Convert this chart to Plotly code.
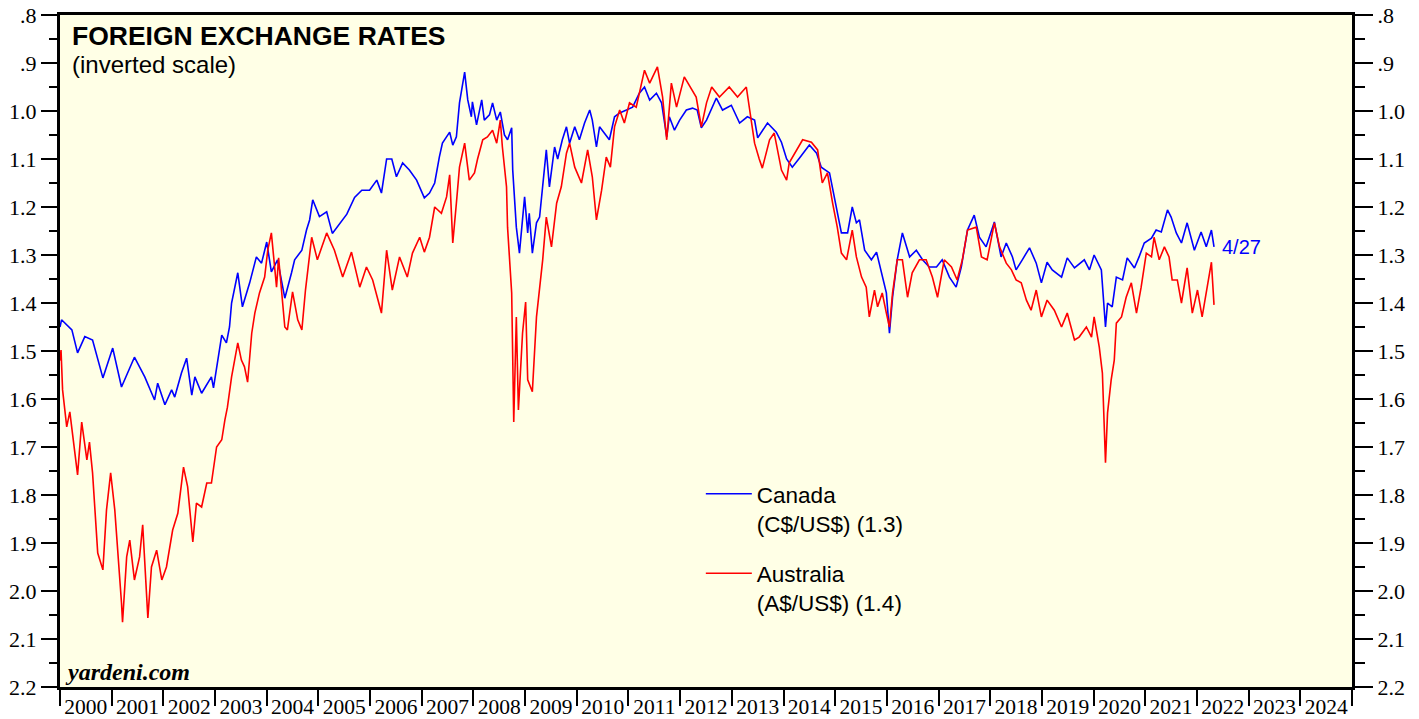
import plotly.graph_objects as go

# ---- data (decimal years, exchange rates per US$) ----
can_t = [2000.00, 2000.03, 2000.23, 2000.34, 2000.48, 2000.63, 2000.83, 2001.02, 2001.19, 2001.44,
         2001.64, 2001.83, 2001.89, 2002.03, 2002.16, 2002.22, 2002.35, 2002.45, 2002.55, 2002.61,
         2002.74, 2002.93, 2002.97, 2003.05, 2003.13, 2003.22, 2003.28, 2003.32, 2003.44, 2003.53,
         2003.67, 2003.80, 2003.90, 2004.00, 2004.09, 2004.21, 2004.35, 2004.48, 2004.54, 2004.68,
         2004.77, 2004.83, 2004.89, 2005.02, 2005.16, 2005.27, 2005.41, 2005.55, 2005.70, 2005.84,
         2005.99, 2006.13, 2006.22, 2006.32, 2006.42, 2006.51, 2006.63, 2006.76, 2006.90, 2007.05,
         2007.15, 2007.25, 2007.34, 2007.40, 2007.54, 2007.60, 2007.67, 2007.73, 2007.83, 2007.89,
         2007.96, 2007.98, 2008.06, 2008.16, 2008.21, 2008.31, 2008.37, 2008.45, 2008.52, 2008.60,
         2008.66, 2008.74, 2008.76, 2008.83, 2008.89, 2008.99, 2009.05, 2009.08, 2009.14, 2009.22,
         2009.28, 2009.34, 2009.41, 2009.47, 2009.57, 2009.63, 2009.72, 2009.80, 2009.86, 2009.96,
         2010.05, 2010.15, 2010.25, 2010.30, 2010.38, 2010.44, 2010.54, 2010.63, 2010.73, 2010.83,
         2010.96, 2011.08, 2011.21, 2011.31, 2011.41, 2011.54, 2011.64, 2011.74, 2011.79, 2011.89,
         2011.99, 2012.12, 2012.24, 2012.33, 2012.41, 2012.51, 2012.70, 2012.82, 2012.99, 2013.15,
         2013.30, 2013.44, 2013.50, 2013.69, 2013.86, 2013.96, 2014.06, 2014.17, 2014.31, 2014.40,
         2014.50, 2014.64, 2014.73, 2014.89, 2015.02, 2015.12, 2015.24, 2015.33, 2015.41, 2015.47,
         2015.57, 2015.70, 2015.80, 2015.89, 2015.99, 2016.05, 2016.11, 2016.20, 2016.30, 2016.44,
         2016.57, 2016.69, 2016.82, 2016.96, 2017.07, 2017.21, 2017.34, 2017.44, 2017.56, 2017.69,
         2017.79, 2017.92, 2018.08, 2018.21, 2018.31, 2018.43, 2018.50, 2018.62, 2018.76, 2018.89,
         2018.99, 2019.10, 2019.20, 2019.38, 2019.49, 2019.63, 2019.82, 2019.92, 2020.01, 2020.15,
         2020.23, 2020.27, 2020.36, 2020.44, 2020.56, 2020.65, 2020.79, 2020.88, 2020.98, 2021.12,
         2021.21, 2021.31, 2021.43, 2021.50, 2021.60, 2021.70, 2021.81, 2021.95, 2022.08, 2022.18,
         2022.28, 2022.33]
can_v = [1.450, 1.435, 1.456, 1.504, 1.470, 1.477, 1.556, 1.494, 1.575, 1.513,
         1.554, 1.602, 1.567, 1.612, 1.581, 1.596, 1.546, 1.515, 1.592, 1.554,
         1.588, 1.554, 1.577, 1.523, 1.467, 1.483, 1.450, 1.400, 1.337, 1.408,
         1.358, 1.304, 1.317, 1.273, 1.335, 1.310, 1.390, 1.337, 1.310, 1.290,
         1.248, 1.227, 1.185, 1.220, 1.210, 1.255, 1.235, 1.215, 1.180, 1.165,
         1.165, 1.144, 1.171, 1.100, 1.100, 1.137, 1.108, 1.123, 1.144, 1.181,
         1.171, 1.150, 1.096, 1.067, 1.044, 1.071, 1.054, 0.983, 0.919, 0.977,
         1.012, 0.981, 1.029, 0.977, 1.019, 1.008, 0.983, 1.019, 1.002, 1.050,
         1.060, 1.035, 1.123, 1.242, 1.296, 1.179, 1.254, 1.213, 1.296, 1.233,
         1.221, 1.150, 1.081, 1.158, 1.075, 1.100, 1.060, 1.033, 1.067, 1.033,
         1.060, 1.025, 0.998, 1.019, 1.075, 1.033, 1.046, 1.060, 1.012, 1.004,
         0.998, 0.992, 0.963, 0.950, 0.977, 0.963, 0.983, 1.054, 1.012, 1.040,
         1.019, 0.998, 0.994, 0.998, 1.035, 1.019, 0.973, 0.998, 0.988, 1.025,
         1.012, 1.019, 1.056, 1.025, 1.044, 1.065, 1.100, 1.117, 1.098, 1.085,
         1.071, 1.088, 1.117, 1.129, 1.200, 1.254, 1.254, 1.200, 1.233, 1.227,
         1.290, 1.310, 1.294, 1.337, 1.379, 1.463, 1.388, 1.310, 1.254, 1.304,
         1.290, 1.310, 1.325, 1.325, 1.310, 1.346, 1.367, 1.325, 1.248, 1.217,
         1.263, 1.283, 1.231, 1.304, 1.275, 1.304, 1.331, 1.310, 1.285, 1.317,
         1.358, 1.315, 1.331, 1.346, 1.306, 1.327, 1.310, 1.331, 1.300, 1.331,
         1.450, 1.400, 1.408, 1.346, 1.352, 1.306, 1.327, 1.304, 1.275, 1.265,
         1.248, 1.252, 1.206, 1.221, 1.254, 1.275, 1.233, 1.290, 1.252, 1.283,
         1.248, 1.283]

aus_t = [2000.00, 2000.02, 2000.05, 2000.13, 2000.19, 2000.25, 2000.34, 2000.42, 2000.52, 2000.57,
         2000.63, 2000.73, 2000.83, 2000.90, 2000.98, 2001.06, 2001.12, 2001.19, 2001.21, 2001.29,
         2001.35, 2001.44, 2001.54, 2001.60, 2001.70, 2001.77, 2001.87, 2001.97, 2002.06, 2002.18,
         2002.28, 2002.39, 2002.47, 2002.57, 2002.64, 2002.74, 2002.84, 2002.93, 2003.03, 2003.13,
         2003.19, 2003.24, 2003.32, 2003.38, 2003.44, 2003.51, 2003.57, 2003.63, 2003.71, 2003.77,
         2003.86, 2003.96, 2004.02, 2004.09, 2004.19, 2004.23, 2004.35, 2004.40, 2004.50, 2004.60,
         2004.68, 2004.75, 2004.87, 2004.98, 2005.16, 2005.31, 2005.47, 2005.64, 2005.80, 2005.93,
         2006.05, 2006.22, 2006.32, 2006.43, 2006.57, 2006.72, 2006.82, 2006.96, 2007.05, 2007.15,
         2007.25, 2007.38, 2007.48, 2007.54, 2007.60, 2007.67, 2007.73, 2007.83, 2007.92, 2008.02,
         2008.08, 2008.18, 2008.27, 2008.37, 2008.45, 2008.52, 2008.56, 2008.64, 2008.66, 2008.74,
         2008.78, 2008.83, 2008.87, 2008.95, 2009.01, 2009.05, 2009.14, 2009.22, 2009.28, 2009.34,
         2009.41, 2009.51, 2009.61, 2009.70, 2009.80, 2009.86, 2009.96, 2010.09, 2010.21, 2010.30,
         2010.38, 2010.48, 2010.57, 2010.65, 2010.73, 2010.83, 2010.92, 2011.02, 2011.15, 2011.21,
         2011.31, 2011.41, 2011.56, 2011.66, 2011.74, 2011.83, 2011.93, 2012.08, 2012.22, 2012.31,
         2012.41, 2012.51, 2012.61, 2012.76, 2012.95, 2013.11, 2013.28, 2013.34, 2013.44, 2013.53,
         2013.59, 2013.73, 2013.82, 2013.96, 2014.06, 2014.11, 2014.25, 2014.37, 2014.54, 2014.66,
         2014.75, 2014.85, 2014.95, 2015.04, 2015.12, 2015.22, 2015.33, 2015.41, 2015.51, 2015.60,
         2015.66, 2015.76, 2015.82, 2015.91, 2015.99, 2016.05, 2016.11, 2016.20, 2016.30, 2016.40,
         2016.49, 2016.63, 2016.76, 2016.88, 2016.98, 2017.11, 2017.25, 2017.36, 2017.46, 2017.56,
         2017.73, 2017.83, 2017.94, 2018.08, 2018.18, 2018.31, 2018.41, 2018.50, 2018.60, 2018.70,
         2018.79, 2018.89, 2018.99, 2019.10, 2019.24, 2019.38, 2019.49, 2019.63, 2019.72, 2019.86,
         2019.96, 2020.01, 2020.11, 2020.17, 2020.23, 2020.27, 2020.34, 2020.40, 2020.44, 2020.54,
         2020.63, 2020.73, 2020.83, 2020.92, 2021.02, 2021.12, 2021.17, 2021.27, 2021.37, 2021.46,
         2021.52, 2021.62, 2021.70, 2021.81, 2021.91, 2022.01, 2022.10, 2022.20, 2022.28, 2022.33]
aus_v = [1.520, 1.498, 1.581, 1.658, 1.627, 1.679, 1.758, 1.648, 1.727, 1.690,
         1.754, 1.921, 1.956, 1.831, 1.754, 1.831, 1.915, 2.025, 2.065, 1.929,
         1.894, 1.977, 1.929, 1.862, 2.056, 1.950, 1.915, 1.977, 1.950, 1.873,
         1.838, 1.742, 1.783, 1.898, 1.817, 1.825, 1.775, 1.775, 1.700, 1.685,
         1.644, 1.617, 1.554, 1.519, 1.483, 1.519, 1.533, 1.565, 1.463, 1.421,
         1.379, 1.346, 1.290, 1.254, 1.367, 1.306, 1.450, 1.456, 1.377, 1.435,
         1.456, 1.373, 1.263, 1.310, 1.254, 1.290, 1.346, 1.294, 1.367, 1.325,
         1.352, 1.421, 1.290, 1.373, 1.304, 1.346, 1.296, 1.263, 1.294, 1.263,
         1.200, 1.213, 1.179, 1.133, 1.275, 1.192, 1.117, 1.067, 1.144, 1.129,
         1.100, 1.060, 1.054, 1.040, 1.067, 1.019, 1.075, 1.158, 1.242, 1.379,
         1.648, 1.429, 1.623, 1.463, 1.398, 1.560, 1.585, 1.429, 1.373, 1.310,
         1.221, 1.283, 1.192, 1.158, 1.088, 1.067, 1.117, 1.150, 1.081, 1.137,
         1.227, 1.165, 1.096, 1.117, 1.033, 0.998, 1.025, 0.983, 0.992, 0.963,
         0.915, 0.942, 0.908, 0.971, 1.060, 0.942, 0.992, 0.929, 0.955, 0.971,
         1.033, 0.983, 0.950, 0.971, 0.950, 0.971, 0.950, 0.992, 1.067, 1.100,
         1.119, 1.060, 1.046, 1.123, 1.144, 1.108, 1.081, 1.060, 1.065, 1.081,
         1.150, 1.129, 1.192, 1.242, 1.296, 1.310, 1.248, 1.304, 1.346, 1.367,
         1.429, 1.373, 1.408, 1.379, 1.421, 1.450, 1.379, 1.310, 1.310, 1.388,
         1.337, 1.310, 1.310, 1.346, 1.388, 1.310, 1.325, 1.352, 1.310, 1.248,
         1.242, 1.304, 1.310, 1.233, 1.283, 1.317, 1.331, 1.352, 1.358, 1.394,
         1.415, 1.373, 1.429, 1.394, 1.415, 1.450, 1.421, 1.477, 1.471, 1.450,
         1.471, 1.429, 1.492, 1.546, 1.733, 1.629, 1.560, 1.519, 1.442, 1.429,
         1.388, 1.358, 1.421, 1.367, 1.296, 1.304, 1.263, 1.310, 1.283, 1.304,
         1.352, 1.352, 1.400, 1.327, 1.421, 1.373, 1.429, 1.367, 1.315, 1.404]

years = list(range(2000, 2025))
year_labels = [str(y) for y in years]
y_ticks = [round(0.8 + 0.1 * i, 1) for i in range(15)]
y_labels = [".8", ".9"] + ["%.1f" % v for v in y_ticks[2:]]
y_minor = [round(0.85 + 0.1 * i, 2) for i in range(14)]

series_names = ["Canada<br>(C$/US$) (1.3)", "Australia<br>(A$/US$) (1.4)"]
last_date_label = "4/27"

BLUE = "#0000FF"
RED = "#FF0000"
SERIF = "Liberation Serif, Times New Roman, serif"
SANS = "Liberation Sans, Arial, sans-serif"

fig = go.Figure()
fig.add_trace(go.Scatter(x=can_t, y=can_v, mode="lines", name=series_names[0],
                         line=dict(color=BLUE, width=1.6), legendgroup="c"))
fig.add_trace(go.Scatter(x=aus_t, y=aus_v, mode="lines", name=series_names[1],
                         line=dict(color=RED, width=1.6), legendgroup="a"))
# invisible helper so the right-hand axis is drawn
fig.add_trace(go.Scatter(x=can_t, y=can_v, mode="lines", yaxis="y2", showlegend=False,
                         hoverinfo="skip", line=dict(width=0), opacity=0))

yaxis_common = dict(
    range=[2.2, 0.8], tickmode="array", tickvals=y_ticks, ticktext=y_labels,
    ticks="outside", tickwidth=2, tickcolor="black", showgrid=False, zeroline=False,
    showline=True, linewidth=3, linecolor="black", automargin=False,
    ticklabeloverflow="allow",
    tickfont=dict(family=SERIF, size=22, color="black"),
)

fig.update_layout(
    width=1419, height=719,
    margin=dict(l=60, r=67, t=15, b=32),
    paper_bgcolor="white", plot_bgcolor="#FFFFE6",
    showlegend=True,
    legend=dict(x=0.496, y=0.319, xanchor="left", yanchor="top",
                bgcolor="rgba(0,0,0,0)", font=dict(family=SANS, size=22.5, color="black"),
                valign="top", tracegroupgap=18, itemwidth=46, traceorder="grouped"),
    xaxis=dict(
        range=[2000, 2025], tickmode="array",
        tickvals=[y + 0.5 for y in years], ticktext=year_labels, ticks="",
        ticklabelstandoff=-2, automargin=False, ticklabeloverflow="allow",
        tickfont=dict(family=SERIF, size=21.5, color="black"),
        showgrid=False, zeroline=False, showline=True, linewidth=3, linecolor="black",
        mirror=True,
        minor=dict(tickmode="array", tickvals=list(range(2000, 2026)), ticks="outside",
                   ticklen=16, tickwidth=2, tickcolor="black", showgrid=False),
    ),
    yaxis=dict(**yaxis_common, side="left", ticklen=16, mirror=True,
               minor=dict(tickmode="array", tickvals=y_minor, ticks="outside",
                          ticklen=8, tickwidth=2, tickcolor="black", showgrid=False)),
    yaxis2=dict(**yaxis_common, side="right", overlaying="y", ticklen=18,
                minor=dict(tickmode="array", tickvals=y_minor, ticks="outside",
                           ticklen=10, tickwidth=2, tickcolor="black", showgrid=False)),
)

fig.add_annotation(text="<b>FOREIGN EXCHANGE RATES</b>", xref="paper", yref="paper",
                   x=0, y=0.969, xanchor="left", yanchor="middle", xshift=10, showarrow=False,
                   font=dict(family=SANS, size=26.5, color="black"))
fig.add_annotation(text="(inverted scale)", xref="paper", yref="paper",
                   x=0, y=0.927, xanchor="left", yanchor="middle", xshift=10, showarrow=False,
                   font=dict(family=SANS, size=24, color="black"))
fig.add_annotation(text="<b><i>yardeni.com</i></b>", xref="paper", yref="paper",
                   x=0, y=0.022, xanchor="left", yanchor="middle", xshift=3, showarrow=False,
                   font=dict(family=SERIF, size=24, color="black"))
fig.add_annotation(text=last_date_label, x=can_t[-1], y=can_v[-1], xref="x", yref="y",
                   xanchor="left", yanchor="middle", xshift=6, showarrow=False,
                   font=dict(family=SANS, size=20, color=BLUE))

# remove the default 8px page margin so the figure fills the window exactly
fig.write_html("out.html", config={"displayModeBar": False},
               post_script="document.body.style.margin='0px';")
